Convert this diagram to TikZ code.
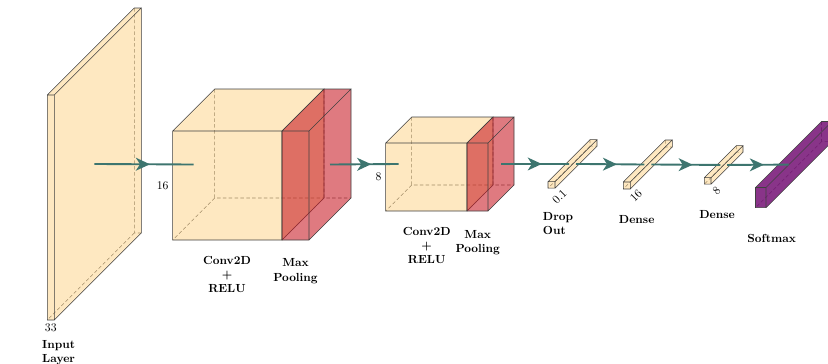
\documentclass[tikz,border=0pt]{standalone}
\usepackage{tikz}
\usetikzlibrary{arrows.meta,decorations.markings}
\definecolor{convfill}{RGB}{252,197,100}
\definecolor{poolfill}{RGB}{197,13,24}
\definecolor{softfill}{RGB}{116,17,116}
\definecolor{flowline}{RGB}{61,117,111}
\tikzset{
	edge/.style={draw=black!75, line width=0.45pt},
	hidden/.style={draw=black!60, line width=0.45pt, dash pattern=on 3pt off 2pt},
	conv/.style={fill=convfill, fill opacity=0.4},
	pool/.style={fill=poolfill, fill opacity=0.55},
	soft/.style={fill=softfill, fill opacity=0.85},
	flow/.style={draw=flowline, line width=1.6pt},
	midtip/.style={postaction={decorate, decoration={markings,
		mark=at position #1 with {\arrow[flowline]{Stealth[length=12pt,width=11pt,inset=3.5pt]}}}}},
	midtip/.default=0.6,
	depthlbl/.style={rotate=45, inner sep=1pt},
	layercap/.style={font=\bfseries, align=center, inner sep=0pt, anchor=north}
}
% box: [style](name)(front top-left x,y)(width:height:depth), pixel units, y down
\def\layerbox[#1](#2)(#3,#4)(#5:#6:#7){%
	\begin{scope}[shift={(#3,#4)}]
		\draw[hidden] (#7,-#7) -- (#7,{#6-#7}) -- ({#5+#7},{#6-#7}) (#7,{#6-#7}) -- (0,#6);
		\fill[#1] (0,0) -- (#7,-#7) -- ({#5+#7},-#7) -- ({#5+#7},{#6-#7}) -- (#5,#6) -- (0,#6) -- cycle;
		\draw[edge] (0,0) rectangle (#5,#6) (0,0) -- (#7,-#7) -- ({#5+#7},-#7) -- (#5,0)
			({#5+#7},-#7) -- ({#5+#7},{#6-#7}) -- (#5,#6);
		\coordinate (#2-w) at ({#7/2},{#6/2-#7/2});
		\coordinate (#2-e) at ({#5+#7/2},{#6/2-#7/2});
		\coordinate (#2-c) at ({#5/2+#7/2},{#6/2-#7/2});
		\coordinate (#2-s) at ({#5/2},#6);
		\coordinate (#2-l) at (0,{#6/2});
	\end{scope}}

\begin{document}
\begin{tikzpicture}[x=0.03cm, y=-0.03cm]
	\useasboundingbox (0,0) rectangle (828,364);
	
	%%% layers
	\layerbox[conv](in)(47.3,95)(7:225:87)
	
	\layerbox[conv](conv1)(172.7,131)(109.3:109:42)
	\layerbox[pool](pool1)(282,131)(27:109:42)
	
	\layerbox[conv](conv2)(385.7,143)(81.3:68:26)
	\layerbox[pool](pool2)(467,143)(21:68:26)
	
	\layerbox[conv](drop)(548,181.7)(7:6.5:42)
	\layerbox[conv](dense1)(623.3,182)(7:7:42)
	\layerbox[conv](dense2)(704.3,177.7)(6.7:6.5:32)
	\layerbox[soft](soft)(755.5,187.5)(10.5:20.2:66)
	
	%%% connections
	\draw[flow, midtip=0.56] (in-c) -- (conv1-w);
	\draw[flow, midtip] (pool1-e) -- (conv2-w);
	\draw[flow, midtip] (pool2-e) -- (drop-w);
	\draw[flow, midtip] (drop-e) -- (dense1-w);
	\draw[flow, midtip] (dense1-e) -- (dense2-w);
	\draw[flow, midtip] (dense2-e) -- (soft-w);
	
	%%% sizes
	\node[below] (n-in) at (in-s) {33};
	\node[anchor=east] (n-conv1) at (conv1-l) {16};
	\node[anchor=east] (n-conv2) at (conv2-l) {8};
	\node[depthlbl] (n-drop) at (559.5,196.5) {0.1};
	\node[depthlbl] (n-dense1) at (636,196) {16};
	\node[depthlbl] (n-dense2) at (716.5,190.5) {8};
	
	%%% captions
	\node[layercap, align=left, anchor=north west] (c-in) at (42,340) {Input\\Layer};
	\node[layercap] (c-conv1) at (227,256) {Conv2D\\+\\RELU};
	\node[layercap] (c-pool1) at (295.5,258.7) {Max\\Pooling};
	\node[layercap] (c-conv2) at (426.7,226.7) {Conv2D\\+\\RELU};
	\node[layercap] (c-pool2) at (477.7,230) {Max\\Pooling};
	\node[layercap, align=left, anchor=north west] (c-drop) at (542.7,212) {Drop\\Out};
	\node[layercap] (c-dense1) at (636.7,215.3) {Dense};
	\node[layercap] (c-dense2) at (717,210.3) {Dense};
	\node[layercap] (c-soft) at (771.7,233.7) {Softmax};
\end{tikzpicture}
\end{document}
